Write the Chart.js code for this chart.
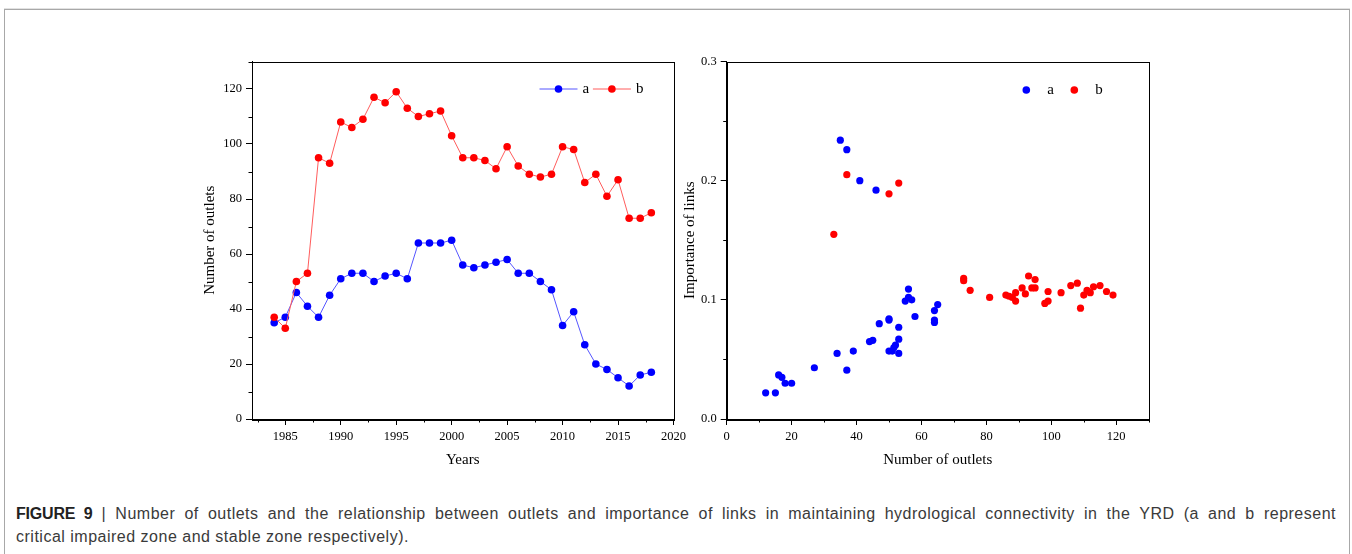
<!DOCTYPE html>
<html>
<head>
<meta charset="utf-8">
<script src="https://cdn.jsdelivr.net/npm/chart.js@4/dist/chart.umd.min.js"></script>
<style>
  html, body { margin: 0; padding: 0; background: #fff; }
  body { width: 1352px; height: 554px; position: relative; overflow: hidden; }
  .frame { position: absolute; left: 4px; top: 9px; width: 1344px; height: 600px; border: 1px solid #a8a8a8; box-shadow: 0 -1px 0 #e2e2e2; }
  .plot { position: absolute; top: 40px; }
  .caption { position: absolute; left: 16px; font-family: 'Liberation Sans', Arial, sans-serif; font-size: 16px; line-height: 23px; color: #3a3a3a; letter-spacing: 0.5px; white-space: nowrap; }
  .caption b { color: #222; letter-spacing: -0.2px; }
  .l1 { top: 502px; width: 1320px; text-align: justify; text-align-last: justify; }
  .l2 { top: 525px; }
</style>
</head>
<body>
<div class="frame"></div>
<div class="plot" style="left:180px"><canvas id="left" width="510" height="440"></canvas></div>
<div class="plot" style="left:670px"><canvas id="right" width="500" height="440"></canvas></div>
<div class="caption l1"><b>FIGURE 9</b> | Number of outlets and the relationship between outlets and importance of links in maintaining hydrological connectivity in the YRD (a and b represent</div>
<div class="caption l2">critical impaired zone and stable zone respectively).</div>

<script>
// left panel: outlets per year
const years = [1984, 1985, 1986, 1987, 1988, 1989, 1990, 1991, 1992, 1993, 1994, 1995, 1996, 1997, 1998, 1999, 2000,
  2001, 2002, 2003, 2004, 2005, 2006, 2007, 2008, 2009, 2010, 2011, 2012, 2013, 2014, 2015, 2016, 2017, 2018];
const outletsA = [35, 37, 46, 41, 37, 45, 51, 53, 53, 50, 52, 53, 51, 64, 64, 64, 65,
  56, 55, 56, 57, 58, 53, 53, 50, 47, 34, 39, 27, 20, 18, 15, 12, 16, 17];
const outletsB = [37, 33, 50, 53, 95, 93, 108, 106, 109, 117, 115, 119, 113, 110, 111, 112, 103,
  95, 95, 94, 91, 99, 92, 89, 88, 89, 99, 98, 86, 89, 81, 87, 73, 73, 75];
const yearTicks = [1985, 1990, 1995, 2000, 2005, 2010, 2015, 2020];
const yearMinor = [1982.5, 1987.5, 1992.5, 1997.5, 2002.5, 2007.5, 2012.5, 2017.5];
const outletTicks = [0, 20, 40, 60, 80, 100, 120];
const outletMinor = [10, 30, 50, 70, 90, 110, 130];

// right panel: outlets vs importance of links
const linkAx = [12, 15, 16, 17, 18, 20, 27, 34, 37, 39, 44, 45, 47, 50, 50, 50, 51, 51.5, 52, 53,
  53, 53, 55, 56, 56, 57, 58, 64, 64, 64, 65, 35, 37, 41, 46];
const linkAy = [0.022, 0.022, 0.037, 0.035, 0.030, 0.030, 0.043, 0.055, 0.041, 0.057, 0.065, 0.066, 0.080, 0.084, 0.083,
  0.057, 0.057, 0.060, 0.062, 0.067, 0.077, 0.055, 0.099, 0.109, 0.102, 0.100, 0.086, 0.091, 0.083, 0.081, 0.096,
  0.234, 0.226, 0.200, 0.192];
const linkBx = [33, 37, 50, 53, 73, 73, 75, 81, 86, 87, 88, 89, 89, 91, 92, 93, 94, 95, 95, 98, 99, 99,
  103, 106, 108, 109, 110, 111, 112, 113, 115, 117, 119];
const linkBy = [0.155, 0.205, 0.189, 0.198, 0.118, 0.116, 0.108, 0.102, 0.104, 0.103, 0.102, 0.106, 0.099, 0.110,
  0.105, 0.120, 0.110, 0.117, 0.110, 0.097, 0.099, 0.107, 0.106, 0.112, 0.114, 0.093, 0.104, 0.108, 0.106, 0.111,
  0.112, 0.107, 0.104];
const outletAxisTicks = [0, 20, 40, 60, 80, 100, 120];
const outletAxisMinor = [10, 30, 50, 70, 90, 110, 130];
const linkTicks = [0, 0.1, 0.2, 0.3];
const linkMinor = [0.05, 0.15, 0.25];

const SERIF = "'Liberation Serif', 'Times New Roman', serif";
const BLUE = '#0000ff', RED = '#ff0000';

const pts = (xs, ys) => xs.map((x, i) => ({ x, y: ys[i] }));

// box around plot area, short minor ticks, and the little legend
const framePlugin = {
  id: 'frame',
  afterDraw(chart, args, o) {
    const { ctx, chartArea: a, scales } = chart;
    ctx.save();
    ctx.strokeStyle = '#000';
    ctx.lineWidth = 1;
    ctx.strokeRect(Math.round(a.left) + 0.5, Math.round(a.top) + 0.5, Math.round(a.right - a.left), Math.round(a.bottom - a.top));
    ctx.beginPath();
    o.minorX.forEach(v => {
      const px = Math.round(scales.x.getPixelForValue(v)) + 0.5;
      ctx.moveTo(px, a.bottom); ctx.lineTo(px, a.bottom + 3.5);
    });
    o.minorY.forEach(v => {
      const py = Math.round(scales.y.getPixelForValue(v)) + 0.5;
      ctx.moveTo(a.left, py); ctx.lineTo(a.left - 3.5, py);
    });
    ctx.stroke();

    const lg = o.legend;
    ctx.font = '15px ' + SERIF;
    ctx.textBaseline = 'middle';
    ctx.fillStyle = '#000';
    chart.data.datasets.forEach((ds, i) => {
      const x = a.right + lg.x + i * lg.step;
      const y = a.top + lg.y;
      if (lg.line) {
        ctx.strokeStyle = ds.borderColor;
        ctx.beginPath(); ctx.moveTo(x - 19, y); ctx.lineTo(x + 19, y); ctx.stroke();
      }
      ctx.fillStyle = ds.pointBackgroundColor;
      ctx.beginPath(); ctx.arc(x, y, 3.8, 0, Math.PI * 2); ctx.fill();
      ctx.fillStyle = '#000';
      ctx.fillText(ds.label, x + lg.textDx, y);
    });
    ctx.restore();
  }
};

function axis(min, max, major, fmt, title, size, titlePad) {
  return {
    type: 'linear', min, max,
    afterBuildTicks: s => { s.ticks = major.map(v => ({ value: v })); },
    afterFit: s => { if (s.isHorizontal()) s.height = size; else s.width = size; },
    border: { display: true, color: '#000', width: 1 },
    grid: { display: true, drawOnChartArea: false, tickLength: 6, color: '#000', lineWidth: 1 },
    ticks: { color: '#000', font: { family: SERIF, size: 12.5 }, padding: 4, callback: fmt, maxRotation: 0, autoSkip: false },
    title: { display: true, text: title, color: '#000', font: { family: SERIF, size: 15 }, padding: titlePad }
  };
}

new Chart(document.getElementById('left'), {
  type: 'line',
  data: {
    datasets: [
      { label: 'a', data: pts(years, outletsA), borderColor: '#5555ff', borderWidth: 1,
        pointBackgroundColor: BLUE, pointBorderWidth: 0, pointRadius: 3.8, order: 1 },
      { label: 'b', data: pts(years, outletsB), borderColor: '#ff5c5c', borderWidth: 1,
        pointBackgroundColor: RED, pointBorderWidth: 0, pointRadius: 3.8, order: 0 }
    ]
  },
  options: {
    responsive: false, animation: false, devicePixelRatio: 1,
    layout: { padding: { top: 21.5, right: 16.5, left: 0, bottom: 0 } },
    plugins: {
      legend: { display: false }, tooltip: { enabled: false },
      frame: { minorX: yearMinor, minorY: outletMinor, legend: { x: -115, y: 27.5, step: 53.4, line: true, textDx: 24 } }
    },
    scales: {
      x: axis(1982, 2020, yearTicks, v => String(v), 'Years', 61, { top: 0, bottom: 11 }),
      y: axis(0, 130, outletTicks, v => String(v), 'Number of outlets', 72, { top: 21.5, bottom: 0 })
    }
  },
  plugins: [framePlugin]
});

new Chart(document.getElementById('right'), {
  type: 'scatter',
  data: {
    datasets: [
      { label: 'a', data: pts(linkAx, linkAy), backgroundColor: BLUE, pointBackgroundColor: BLUE,
        borderWidth: 0, pointRadius: 3.6 },
      { label: 'b', data: pts(linkBx, linkBy), backgroundColor: RED, pointBackgroundColor: RED,
        borderWidth: 0, pointRadius: 3.6 }
    ]
  },
  options: {
    responsive: false, animation: false, devicePixelRatio: 1,
    layout: { padding: { top: 21.5, right: 21.3, left: 0, bottom: 0 } },
    plugins: {
      legend: { display: false }, tooltip: { enabled: false },
      frame: { minorX: outletAxisMinor, minorY: linkMinor, legend: { x: -122.4, y: 28.5, step: 48, line: false, textDx: 21 } }
    },
    scales: {
      x: axis(0, 130, outletAxisTicks, v => String(v), 'Number of outlets', 61, { top: 0, bottom: 11 }),
      y: axis(0, 0.3, linkTicks, v => v.toFixed(1), 'Importance of links', 56.7, { top: 11, bottom: 0 })
    }
  },
  plugins: [framePlugin]
});
</script>
</body>
</html>
